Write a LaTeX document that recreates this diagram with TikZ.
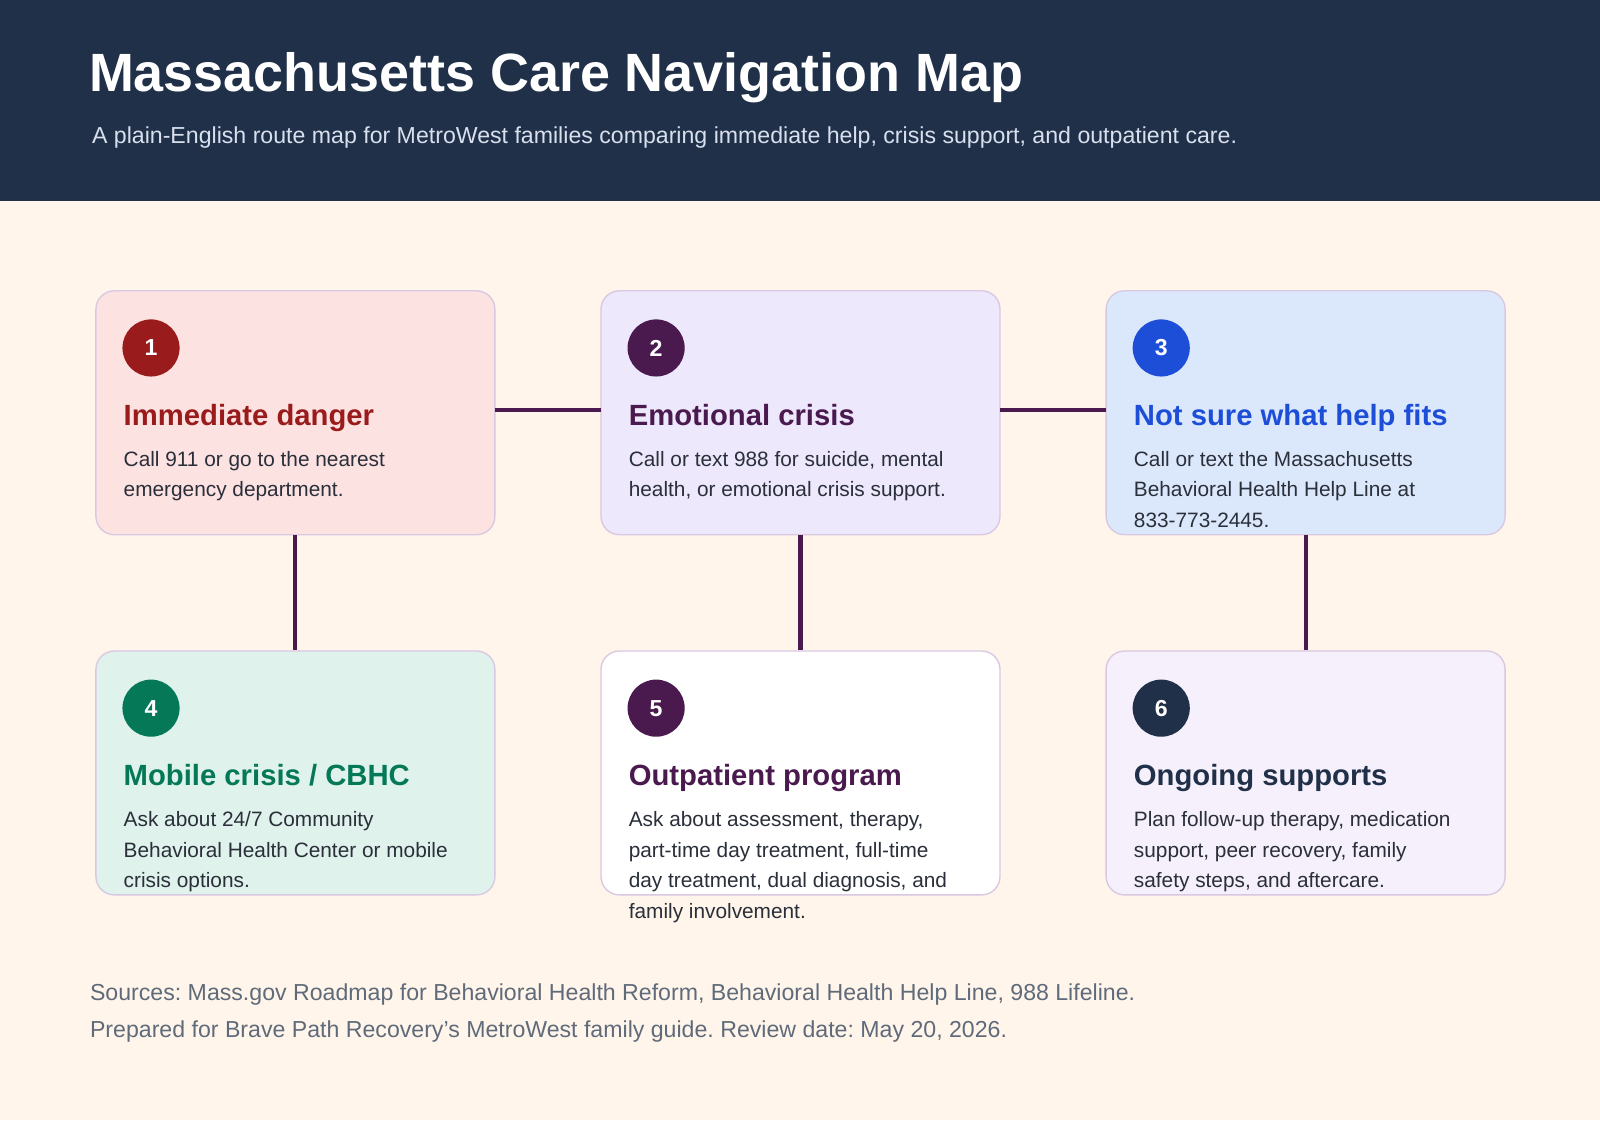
\documentclass[tikz,border=0pt]{standalone}
\usepackage{fontspec}
\setmainfont{Liberation Sans}[Ligatures=ResetAll]
\frenchspacing
\definecolor{hdr}{HTML}{213049}
\definecolor{bgc}{HTML}{FFF5EA}
\definecolor{lnk}{HTML}{4A1A4F}
\definecolor{bord}{HTML}{D9C8E2}
\definecolor{bodyc}{HTML}{2A2F3A}
\definecolor{foot}{HTML}{5F6B7A}
\definecolor{subc}{HTML}{D8E0EE}
\definecolor{f1c}{HTML}{FDE2E2}
\definecolor{f2c}{HTML}{EDE8FC}
\definecolor{f3c}{HTML}{DBE8FC}
\definecolor{f4c}{HTML}{DFF2EB}
\definecolor{f6c}{HTML}{F5F0FB}
\definecolor{redc}{HTML}{991B1B}
\definecolor{purc}{HTML}{4A1A4F}
\definecolor{bluc}{HTML}{1D4ED8}
\definecolor{grnc}{HTML}{047857}
\tikzset{
 card/.style={draw=bord,line width=1pt,rounded corners=13.5pt,minimum width=293.25pt,minimum height=179.25pt,inner sep=0pt},
 badge/.style={circle,minimum size=42pt,inner sep=0pt,text=white,font=\bfseries\fontsize{17}{20}\selectfont},
 ctitle/.style={anchor=base west,inner sep=0pt,font=\bfseries\fontsize{21.5}{26}\selectfont},
 cbody/.style={anchor=north west,inner sep=0pt,align=left,text=bodyc,font=\fontsize{15.3}{22.5}\selectfont},
 foottxt/.style={anchor=base west,inner sep=0pt,text=foot,font=\fontsize{17}{20}\selectfont},
 link/.style={draw=lnk,line width=3pt}
}
\begin{document}
\begin{tikzpicture}[x=0.75pt,y=-0.75pt]
\fill[bgc] (0,0) rectangle (1568,1098);
\fill[hdr] (0,0) rectangle (1568,197);
\useasboundingbox (0,0) rectangle (1568,1098);
\node[anchor=base west,inner sep=0pt,text=white,font=\bfseries\fontsize{39.6}{44}\selectfont] (title) at (87,90) {Massachusetts Care Navigation Map};
\node[anchor=base west,inner sep=0pt,text=subc,font=\fontsize{17}{20}\selectfont] (sub) at (90,141) {A plain-English route map for MetroWest families comparing immediate help, crisis support, and outpatient care.};
% cards
\node[card,fill=f1c] (c1) at (289.5,404.5) {};
\node[card,fill=f2c] (c2) at (784.5,404.5) {};
\node[card,fill=f3c] (c3) at (1279.5,404.5) {};
\node[card,fill=f4c] (c4) at (289.5,757.5) {};
\node[card,fill=white] (c5) at (784.5,757.5) {};
\node[card,fill=f6c] (c6) at (1279.5,757.5) {};
\coordinate (h1) at (485,402); \coordinate (h2) at (589,402);
\coordinate (h3) at (980,402); \coordinate (h4) at (1084,402);
\draw[link] (h1) -- (h2);
\draw[link] (h3) -- (h4);
\draw[link] (c1.south) -- (c4.north);
\draw[link] (c2.south) -- (c5.north);
\draw[link] (c3.south) -- (c6.north);
% badges
\node[badge,fill=redc] (b1) at (148,341) {1};
\node[badge,fill=purc] (b2) at (643,341) {2};
\node[badge,fill=bluc] (b3) at (1138,341) {3};
\node[badge,fill=grnc] (b4) at (148,694) {4};
\node[badge,fill=purc] (b5) at (643,694) {5};
\node[badge,fill=hdr] (b6) at (1138,694) {6};
% titles
\node[ctitle,text=redc] (t1) at (121,417) {Immediate danger};
\node[ctitle,text=purc] (t2) at (616,417) {Emotional crisis};
\node[ctitle,text=bluc] (t3) at (1111,417) {Not sure what help fits};
\node[ctitle,text=grnc] (t4) at (121,770) {Mobile crisis / CBHC};
\node[ctitle,text=purc] (t5) at (616,770) {Outpatient program};
\node[ctitle,text=hdr] (t6) at (1111,770) {Ongoing supports};
% bodies
\node[cbody] (d1) at (121,442) {Call 911 or go to the nearest\\emergency department.};
\node[cbody] (d2) at (616,442) {Call or text 988 for suicide, mental\\health, or emotional crisis support.};
\node[cbody] (d3) at (1111,442) {Call or text the Massachusetts\\Behavioral Health Help Line at\\833-773-2445.};
\node[cbody] (d4) at (121,795) {Ask about 24/7 Community\\Behavioral Health Center or mobile\\crisis options.};
\node[cbody] (d5) at (616,795) {Ask about assessment, therapy,\\part-time day treatment, full-time\\day treatment, dual diagnosis, and\\family involvement.};
\node[cbody] (d6) at (1111,795) {Plan follow-up therapy, medication\\support, peer recovery, family\\safety steps, and aftercare.};
% footer
\node[foottxt] (f1) at (88,980) {Sources: Mass.gov Roadmap for Behavioral Health Reform, Behavioral Health Help Line, 988 Lifeline.};
\node[foottxt] (f2) at (88,1017) {Prepared for Brave Path Recovery's MetroWest family guide. Review date: May 20, 2026.};
\end{tikzpicture}
\end{document}
